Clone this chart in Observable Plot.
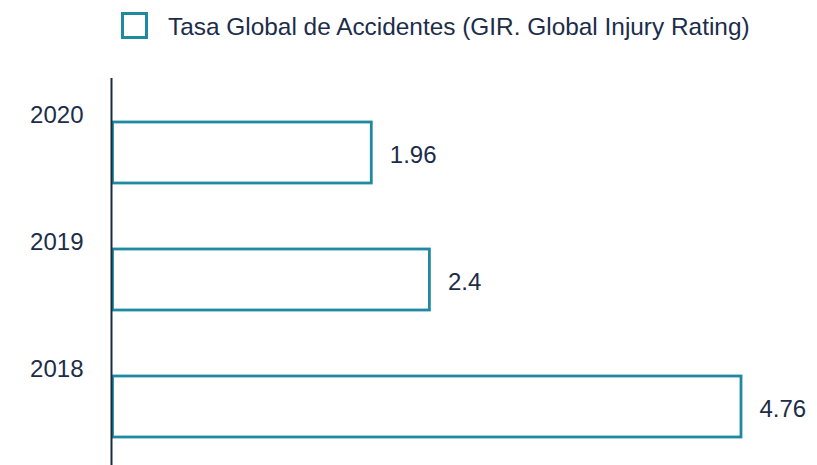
<!DOCTYPE html>
<html>
<head>
<meta charset="utf-8">
<script src="https://cdn.jsdelivr.net/npm/d3@7"></script>
<script src="https://cdn.jsdelivr.net/npm/@observablehq/plot@0.6"></script>
<style>
  html, body { margin: 0; padding: 0; background: #ffffff; }
  #wrap { width: 817px; height: 465px; position: relative; overflow: hidden; }
  #legend { position: relative; height: 60px; width: 817px; font-family: "Liberation Sans", Arial, sans-serif; }
  #legend .swatch { position: absolute; left: 121px; top: 12px; width: 27px; height: 27px; border: 3px solid #1f89a0; box-sizing: border-box; background: #fff; }
  #legend .label { position: absolute; left: 168px; top: 15px; font-size: 24.4px; line-height: 24px; color: #1c2d4a; white-space: nowrap; }
  svg { display: block; }
</style>
</head>
<body>
<div id="wrap">
  <div id="legend"><div class="swatch"></div><div class="label" id="legendLabel"></div></div>
  <div id="chart"></div>
</div>
<script>
const seriesName = "Tasa Global de Accidentes (GIR. Global Injury Rating)";
const years = ["2020", "2019", "2018"];
const rates = [1.96, 2.4, 4.76];
const rateLabels = ["1.96", "2.4", "4.76"];

const teal = "#1f89a0";
const navy = "#1c2d4a";

document.getElementById("legendLabel").textContent = seriesName;

const table = years.map((year, i) => ({year, rate: rates[i], label: rateLabels[i]}));

const chart = Plot.plot({
  width: 817,
  height: 405,
  marginTop: 18,
  marginBottom: 0,
  marginLeft: 111,
  marginRight: 76,
  style: {fontFamily: "'Liberation Sans', Arial, sans-serif", fontSize: "24px", color: navy, background: "#fff"},
  x: {domain: [0, d3.max(rates)], range: [112.5, 741], axis: null},
  y: {domain: years, range: [61, 377], paddingInner: 0.52, paddingOuter: 0, axis: null},
  marks: [
    Plot.barX(table, {x: "rate", y: "year", fill: "#ffffff", stroke: teal, strokeWidth: 2.8}),
    Plot.ruleX([0], {stroke: "#1a2a44", strokeWidth: 2, dx: -1.5}),
    Plot.axisY({tickSize: 0, tickPadding: 28, dy: -38, fontSize: 24, label: null}),
    Plot.text(table, {x: "rate", y: "year", text: "label", textAnchor: "start", dx: 18, dy: 2, fontSize: 24, fill: navy})
  ]
});
document.getElementById("chart").appendChild(chart);
</script>
</body>
</html>
